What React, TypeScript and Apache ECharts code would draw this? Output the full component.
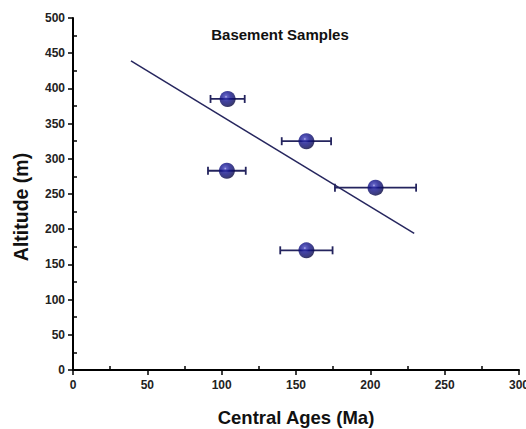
import React, { useEffect, useRef } from "react";
import * as echarts from "echarts";

const ages = [104, 157, 103.5, 203.5, 157];
const altitudes = [385, 325, 283, 259, 170];
const ageErrors = [11.5, 16.6, 12.7, 27.3, 17.6];
const fitLine = [
  [39, 439],
  [229.5, 194],
];
const titleText = "Basement Samples";
const xName = "Central Ages (Ma)";
const yName = "Altitude (m)";

export default function App() {
  const ref = useRef<HTMLDivElement>(null);
  useEffect(() => {
    if (!ref.current) return;
    const chart = echarts.init(ref.current, undefined, { renderer: "svg" });
    const navy = "#24245e";
    const font = "'Liberation Sans', Arial, sans-serif";
    const axisCommon = {
      axisLine: { show: true, onZero: false, lineStyle: { color: "#000", width: 2 } },
      axisTick: { show: true, length: 5, lineStyle: { color: "#000", width: 1.5 } },
      minorTick: { show: true, splitNumber: 2, length: -4, lineStyle: { color: "#000", width: 1.5 } },
      splitLine: { show: false },
      axisLabel: { color: "#222", fontFamily: font, fontWeight: "bold", fontSize: 12 },
      nameTextStyle: { color: "#111", fontFamily: font, fontWeight: "bold", fontSize: 18.5 },
    };
    chart.setOption({
      animation: false,
      backgroundColor: "#fff",
      title: {
        text: titleText,
        left: 275,
        top: 22,
        textAlign: "center",
        textStyle: { fontFamily: font, fontWeight: "bold", fontSize: 15, color: "#111" },
      },
      grid: { left: 73, right: 7, top: 18, bottom: 59, containLabel: false, outerBoundsMode: "none" },
      xAxis: {
        ...axisCommon,
        type: "value",
        min: 0,
        max: 300,
        interval: 50,
        name: xName,
        nameLocation: "middle",
        nameGap: 38,
        axisLabel: { ...axisCommon.axisLabel, margin: 9 },
      },
      yAxis: {
        ...axisCommon,
        type: "value",
        min: 0,
        max: 500,
        interval: 50,
        name: yName,
        nameLocation: "middle",
        nameGap: 42,
        nameTextStyle: { ...axisCommon.nameTextStyle, fontSize: 19.5, padding: [0, 26, 0, 0] },
        axisLabel: { ...axisCommon.axisLabel, margin: 8 },
      },
      series: [
        {
          type: "line",
          data: fitLine,
          showSymbol: false,
          symbol: "none",
          lineStyle: { color: "#26265e", width: 1.5 },
          z: 2,
        },
        {
          type: "custom",
          data: ages.map((a, i) => [a, altitudes[i], ageErrors[i]]),
          renderItem: (params: any, api: any) => {
            const x = api.value(0);
            const y = api.value(1);
            const e = api.value(2);
            const p1 = api.coord([x - e, y]);
            const p2 = api.coord([x + e, y]);
            const style = { stroke: navy, lineWidth: 1.8 };
            return {
              type: "group",
              children: [
                { type: "line", shape: { x1: p1[0], y1: p1[1], x2: p2[0], y2: p2[1] }, style },
                { type: "line", shape: { x1: p1[0], y1: p1[1] - 4, x2: p1[0], y2: p1[1] + 4 }, style },
                { type: "line", shape: { x1: p2[0], y1: p2[1] - 4, x2: p2[0], y2: p2[1] + 4 }, style },
              ],
            };
          },
          z: 3,
        },
        {
          type: "scatter",
          data: ages.map((a, i) => [a, altitudes[i]]),
          symbol: "circle",
          symbolSize: 16,
          itemStyle: {
            color: new echarts.graphic.RadialGradient(0.4, 0.36, 0.62, [
              { offset: 0, color: "#a8a8ec" },
              { offset: 0.14, color: "#3838b4" },
              { offset: 0.45, color: "#14148e" },
              { offset: 0.85, color: "#0c0c62" },
              { offset: 1, color: "#060640" },
            ]),
          },
          z: 4,
        },
      ],
    });
    return () => chart.dispose();
  }, []);
  return <div ref={ref} style={{ width: 526, height: 429, position: "absolute", left: 0, top: 0 }} />;
}
